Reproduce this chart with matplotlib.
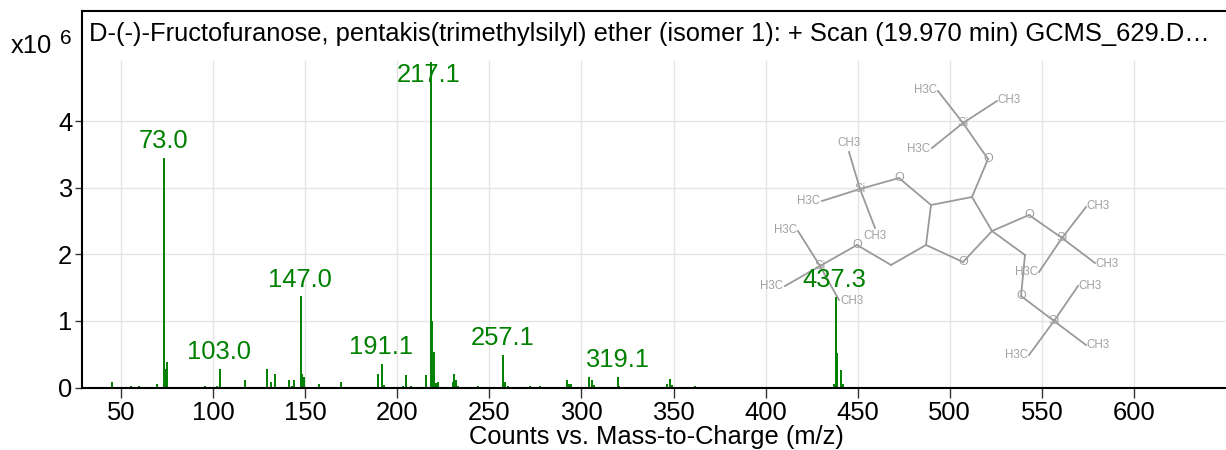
import matplotlib
matplotlib.use("Agg")
import matplotlib.pyplot as plt

plt.rcParams['font.family'] = ['Liberation Sans', 'DejaVu Sans']

TITLE = "D-(-)-Fructofuranose, pentakis(trimethylsilyl) ether (isomer 1): + Scan (19.970 min) GCMS_629.D…"
XLABEL = "Counts vs. Mass-to-Charge (m/z)"
xticks = [50, 100, 150, 200, 250, 300, 350, 400, 450, 500, 550, 600]
yticks = [0, 1, 2, 3, 4]

mz = [45, 55.3, 59.6, 69.6, 73.5, 74.2, 75, 95.6, 102, 103.5, 117.3, 129, 131.2, 133.8,
      141.2, 142.6, 143.9, 147.5, 148.3, 149.5, 157.7, 169.6, 189.7, 191.5, 192.6,
      203.2, 205, 207.4, 215.4, 218.3, 219, 219.9, 221, 222, 230, 230.8, 231.9, 233,
      243.8, 257.4, 258.3, 260, 272, 277.5, 292.3, 293.4, 294.3, 303.9, 305.9, 306.8,
      319.7, 320.5, 346.2, 348, 349, 361.9, 437, 438, 438.8, 440.7, 442]
intensity = [.085, .03, .03, .06, 3.45, .28, .38, .03, .03, .28, .11, .28, .08, .21,
             .11, .03, .11, 1.37, .21, .165, .05, .085, .21, .36, .04,
             .03, .185, .03, .185, 4.89, 1.0, .54, .075, .09, .09, .21, .11, .03,
             .03, .49, .09, .03, .025, .025, .11, .05, .06, .165, .11, .04,
             .165, .03, .06, .135, .04, .03, .06, 1.36, .52, .27, .05]
minor_mz = [41, 43, 48, 52, 57, 63, 66, 68, 77, 79, 81, 83, 85, 87, 89, 91, 93, 97, 99, 107, 109,
            111, 113, 115, 119, 121, 123, 125, 127, 137, 139, 151, 153, 159, 161, 163, 165, 167,
            171, 173, 175, 177, 179, 181, 183, 185, 187, 195, 197, 199, 201, 211, 213, 235, 237,
            239, 241, 246, 249, 252, 262, 265, 268, 275, 280, 285, 290, 297, 300, 309, 312,
            315, 323, 327, 331, 335, 340, 343, 352, 355, 358, 365, 369, 375, 380, 431, 434, 445]
minor_intensity = [.012] * len(minor_mz)

peak_labels = ["73.0", "103.0", "147.0", "191.1", "217.1", "257.1", "319.1", "437.3"]
label_x = [73.0, 103.0, 147.0, 191.1, 217.1, 257.1, 319.1, 437.3]
label_y = [3.45, 0.28, 1.37, 0.36, 4.45, 0.49, 0.165, 1.36]

# Structure drawing: atom positions in image pixels
atoms = {
    'Si1': (963, 123), 'A1': (938, 91), 'A2': (997, 101), 'A3': (932, 148), 'O1': (988, 159),
    'C1': (972, 197), 'C2': (992, 231), 'Or': (963, 262), 'C3': (926, 245), 'C4': (931, 205),
    'O2': (899, 178), 'Si2': (860, 189), 'B1': (849, 152), 'B2': (822, 201), 'B3': (875, 228),
    'O3': (857, 245), 'CH': (891, 265), 'Si3': (820, 266), 'D1': (798, 231), 'D2': (785, 286),
    'D3': (839, 300), 'O4': (1029, 215), 'Si4': (1062, 238), 'E1': (1086, 207), 'E2': (1095, 263),
    'E3': (1039, 272), 'CJ': (1025, 255), 'O5': (1021, 296), 'Si5': (1054, 321),
    'F1': (1078, 286), 'F2': (1086, 345), 'F3': (1029, 355),
}
bonds = [('Si1', 'A1'), ('Si1', 'A2'), ('Si1', 'A3'), ('Si1', 'O1'), ('O1', 'C1'), ('C1', 'C2'),
         ('C2', 'Or'), ('Or', 'C3'), ('C3', 'C4'), ('C4', 'C1'), ('C4', 'O2'), ('O2', 'Si2'),
         ('Si2', 'B1'), ('Si2', 'B2'), ('Si2', 'B3'), ('C3', 'CH'), ('CH', 'O3'), ('O3', 'Si3'),
         ('Si3', 'D1'), ('Si3', 'D2'), ('Si3', 'D3'), ('C2', 'O4'), ('O4', 'Si4'), ('Si4', 'E1'),
         ('Si4', 'E2'), ('Si4', 'E3'), ('C2', 'CJ'), ('CJ', 'O5'), ('O5', 'Si5'), ('Si5', 'F1'),
         ('Si5', 'F2'), ('Si5', 'F3')]
atom_labels = [("Si", 963, 123), ("O", 988, 159), ("O", 963, 262), ("O", 899, 178), ("Si", 860, 189),
               ("O", 857, 245), ("Si", 820, 266), ("O", 1029, 215), ("Si", 1062, 238),
               ("O", 1021, 296), ("Si", 1054, 321),
               ("H3C", 926, 90), ("CH3", 1009, 100), ("H3C", 919, 149), ("CH3", 849, 143),
               ("H3C", 809, 201), ("CH3", 875, 236), ("H3C", 786, 230), ("H3C", 772, 286),
               ("CH3", 852, 301), ("CH3", 1098, 206), ("CH3", 1107, 264), ("H3C", 1027, 272),
               ("CH3", 1090, 286), ("CH3", 1098, 345), ("H3C", 1017, 355)]

W, H = 1226, 450
FS = 18.4
fig = plt.figure(figsize=(W / 100, H / 100), dpi=100)
L, R, T, B = 82, 1226, 11, 387.5
ax = fig.add_axes([L / W, 1 - B / H, (R - L) / W, (B - T) / H])
ax.set_xlim(28.8, 650)
ax.set_ylim(0, 5.66)

GRID = "#e4e4e4"
GREEN = "#008000"
GRID_TOP = 4.92
ax.vlines(xticks, 0, GRID_TOP, color=GRID, lw=1.0, zorder=1)
ax.hlines(yticks[1:], 28.8, 650, color=GRID, lw=1.0, zorder=1)
ax.vlines(minor_mz, 0, minor_intensity, color=GREEN, lw=0.8, alpha=0.7, zorder=2)
ax.vlines(mz, 0, intensity, color=GREEN, lw=1.4, zorder=2)

for s in ax.spines.values():
    s.set_color("black")
ax.spines['left'].set_linewidth(1.5)
ax.spines['bottom'].set_linewidth(1.5)
ax.spines['top'].set_linewidth(1.5)
ax.spines['right'].set_visible(False)

ax.set_xticks(xticks)
ax.set_yticks(yticks)
ax.tick_params(axis='x', labelsize=FS, length=7, width=1.0, color="#333333", pad=3)
ax.tick_params(axis='y', labelsize=FS, length=5, width=1.0, color="#333333", pad=2)

fig.text(656 / W, 1 - 437 / H, XLABEL, fontsize=FS, va='center', ha='center')
fig.text(89 / W, 1 - 34 / H, TITLE, fontsize=FS, va='center', ha='left', color='black')
fig.text(11 / W, 1 - 46 / H, "x10", fontsize=FS, va='center', ha='left')
fig.text(60 / W, 1 - 38 / H, "6", fontsize=15, va='center', ha='left')

# overlay in pixel coordinates for the structure
ov = fig.add_axes([0, 0, 1, 1], facecolor='none')
ov.set_xlim(0, W)
ov.set_ylim(H, 0)
ov.axis('off')
for a, b in bonds:
    ov.plot([atoms[a][0], atoms[b][0]], [atoms[a][1], atoms[b][1]], color="#9a9a9a", lw=1.3, zorder=3)
for t, x, y in atom_labels:
    ov.text(x, y, t, color="#a0a0a0", fontsize=8.3 if len(t) > 2 else 9, ha='center', va='center', zorder=4)

for t, x, y in zip(peak_labels, label_x, label_y):
    px = L + (x - 28.8) / (650 - 28.8) * (R - L)
    py = B - y / 5.66 * (B - T)
    ov.annotate(t, (px, py), xytext=(0, 3.5), textcoords='offset points', color=GREEN, fontsize=FS,
                ha='center', va='bottom', zorder=5)

fig.savefig("out.png", dpi=100)
